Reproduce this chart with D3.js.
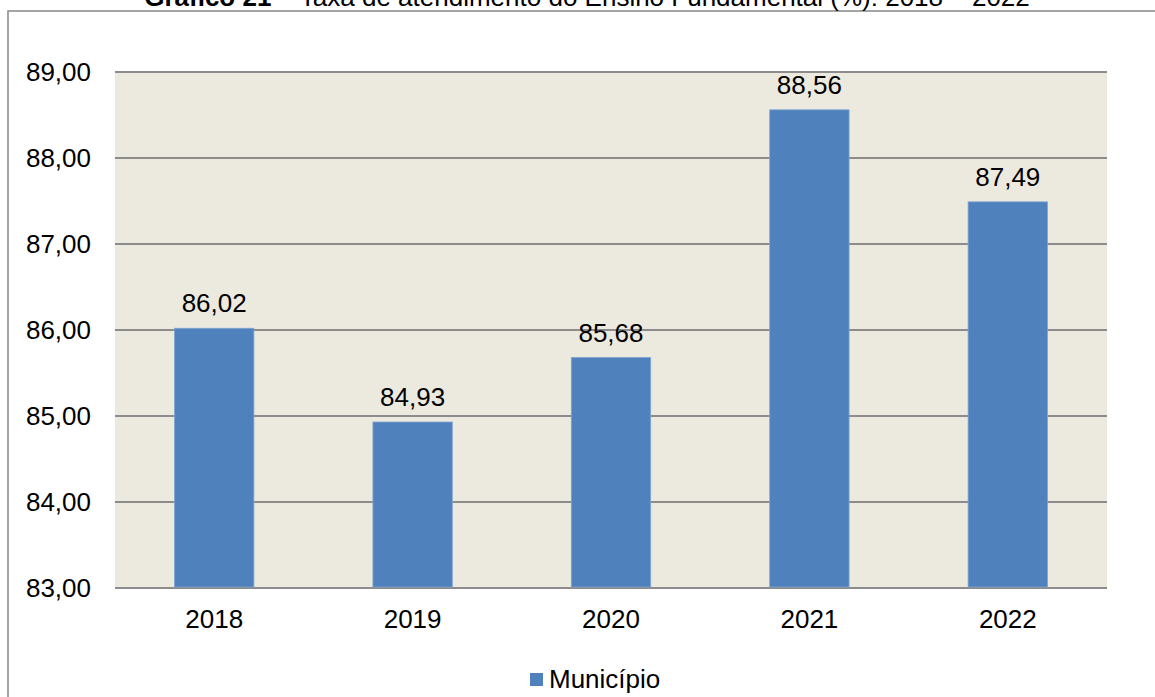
<!DOCTYPE html>
<html>
<head>
<meta charset="utf-8">
<script src="https://cdn.jsdelivr.net/npm/d3@7"></script>
<style>
  body { margin: 0; background: #fff; }
  text { font-family: Arial, "Liberation Sans", sans-serif; }
</style>
</head>
<body>
<div id="chart"></div>
<script>
var width = 1155, height = 697;

// data
var years = ['2018', '2019', '2020', '2021', '2022'];
var values = [86.02, 84.93, 85.68, 88.56, 87.49];
var yTicks = [83, 84, 85, 86, 87, 88, 89];
var seriesName = 'Município';

var margin = {left: 115, right: 48, top: 72, bottom: 109};
var fs = 26;

var svg = d3.select('#chart').append('svg')
  .attr('width', width)
  .attr('height', height);

// outer frame (cut off at right and bottom in the original)
svg.append('rect')
  .attr('x', 8).attr('y', 11)
  .attr('width', 1200).attr('height', 800)
  .attr('fill', 'none')
  .attr('stroke', '#888')
  .attr('stroke-width', 1.5);

// title, mostly clipped above the page like in the original
var title = svg.append('text')
  .attr('x', 587).attr('y', 6)
  .attr('text-anchor', 'middle')
  .attr('font-size', fs);
title.append('tspan').attr('font-weight', 'bold').text('Gráfico 21');
title.append('tspan').text(' – Taxa de atendimento do Ensino Fundamental (%): 2018 – 2022');

var x = d3.scaleBand()
  .domain(years)
  .range([margin.left, width - margin.right])
  .paddingInner(0.6)
  .paddingOuter(0.3);

var y = d3.scaleLinear()
  .domain([83, 89])
  .range([height - margin.bottom, margin.top]);

// plot background
svg.append('rect')
  .attr('x', margin.left).attr('y', margin.top)
  .attr('width', width - margin.right - margin.left)
  .attr('height', y(83) - y(89))
  .attr('fill', '#ECE9DF');

// grid lines
svg.append('g')
  .selectAll('line')
  .data(yTicks)
  .enter()
  .append('line')
  .attr('x1', margin.left).attr('x2', width - margin.right)
  .attr('y1', d => y(d)).attr('y2', d => y(d))
  .attr('stroke', '#8c8c8c')
  .attr('stroke-width', 2);

// y labels
svg.append('g')
  .selectAll('text')
  .data(yTicks)
  .enter()
  .append('text')
  .attr('x', 91)
  .attr('y', d => y(d) + 9)
  .attr('text-anchor', 'end')
  .attr('font-size', fs)
  .text(d => d.toFixed(2).replace('.', ','));

// bars
svg.append('g')
  .selectAll('rect')
  .data(values)
  .enter()
  .append('rect')
  .attr('x', (d, i) => x(years[i]))
  .attr('y', d => y(d))
  .attr('width', x.bandwidth())
  .attr('height', d => y(83) - y(d) - 1)
  .attr('fill', '#4F81BD')
  .attr('stroke', '#7FA3D0')
  .attr('stroke-width', 0.8);

// value labels
svg.append('g')
  .selectAll('text')
  .data(values)
  .enter()
  .append('text')
  .attr('x', (d, i) => x(years[i]) + x.bandwidth() / 2)
  .attr('y', d => y(d) - 16)
  .attr('text-anchor', 'middle')
  .attr('font-size', fs)
  .text(d => d.toFixed(2).replace('.', ','));

// x labels
svg.append('g')
  .selectAll('text')
  .data(years)
  .enter()
  .append('text')
  .attr('x', d => x(d) + x.bandwidth() / 2)
  .attr('y', y(83) + 40)
  .attr('text-anchor', 'middle')
  .attr('font-size', fs)
  .text(d => d);

// legend
svg.append('rect')
  .attr('x', 530).attr('y', 673)
  .attr('width', 13).attr('height', 13)
  .attr('fill', '#4F81BD');
svg.append('text')
  .attr('x', 549).attr('y', 688)
  .attr('font-size', fs)
  .text(seriesName);
</script>
</body>
</html>
